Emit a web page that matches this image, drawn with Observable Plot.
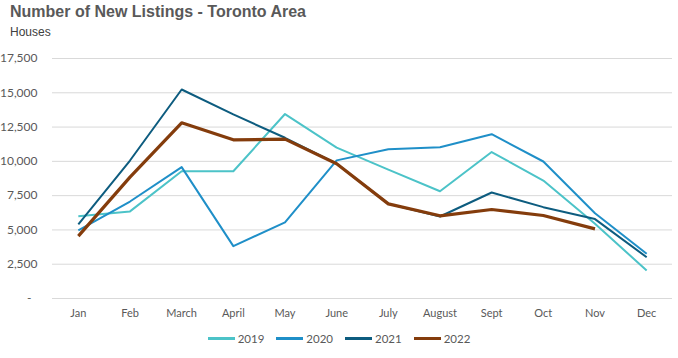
<!DOCTYPE html>
<html><head><meta charset="utf-8">
<script src="https://cdn.jsdelivr.net/npm/d3@7"></script>
<script src="https://cdn.jsdelivr.net/npm/@observablehq/plot@0.6"></script>
<style>
body{margin:0;background:#fff;width:678px;height:358px;position:relative;overflow:hidden;}
#title{position:absolute;left:10px;top:3px;font:bold 16px "Liberation Sans",Arial,sans-serif;color:#595959;white-space:nowrap;}
#sub{position:absolute;left:10px;top:25px;font:12px "Liberation Sans",Arial,sans-serif;color:#404040;}
#chart{position:absolute;left:0;top:40px;}
#legend{position:absolute;left:0;top:332px;width:678px;display:flex;justify-content:center;gap:12px;font:11.5px Lato,sans-serif;color:#595959;}
.item{display:flex;align-items:center;}
.sw{width:27px;height:3px;margin-right:3px;}
</style></head>
<body>
<div id="title">Number of New Listings - Toronto Area</div>
<div id="sub">Houses</div>
<div id="chart"></div>
<div id="legend"></div>
<script>
const months = ["Jan","Feb","March","April","May","June","July","August","Sept","Oct","Nov","Dec"];
const years = ["2019","2020","2021","2022"];
const colors = ["#4cc3c8","#1f8fc8","#0d5c7f","#843c0c"];
const widths = [2, 2, 2, 3.2];
const s2019 = [6000, 6350, 9280, 9280, 13450, 11000, 9400, 7820, 10680, 8600, 5450, 2040];
const s2020 = [4960, 7070, 9580, 3820, 5550, 10070, 10890, 11030, 11980, 9990, 6220, 3260];
const s2021 = [5400, 10060, 15240, 13420, 11720, 9830, 6900, 5980, 7730, 6660, 5790, 3010];
const s2022 = [4550, 8850, 12810, 11570, 11620, 9830, 6900, 6030, 6490, 6050, 5080];
const yTicks = [0, 2500, 5000, 7500, 10000, 12500, 15000, 17500];

const series = [s2019, s2020, s2021, s2022];
const data = series.map((s, i) => s.map((v, j) => ({year: years[i], month: months[j], value: v})));

const fmt = d3.format(",");
const plot = Plot.plot({
  width: 678,
  height: 290,
  marginLeft: 52,
  marginRight: 6,
  marginTop: 18,
  marginBottom: 32,
  style: {fontFamily: "Lato, sans-serif", fontSize: "12px", color: "#595959", background: "transparent"},
  x: {type: "point", domain: months, padding: 0.5, round: false},
  y: {domain: [0, 17500]},
  marks: [
    Plot.gridY(yTicks, {stroke: "#d9d9d9", strokeOpacity: 1, strokeWidth: 1}),
    Plot.axisY(yTicks, {tickSize: 0, tickPadding: 15, label: null, tickFormat: d => d === 0 ? "-\u00a0\u00a0" : fmt(d), fill: "#595959"}),
    Plot.axisX({tickSize: 0, tickPadding: 11, label: null, fill: "#595959", fontSize: 11}),
    ...data.map((d, i) => Plot.line(d, {x: "month", y: "value", stroke: colors[i], strokeWidth: widths[i], strokeLinejoin: "round", strokeLinecap: "butt"}))
  ]
});
document.getElementById("chart").appendChild(plot);

const leg = document.getElementById("legend");
years.forEach((y, i) => {
  const it = document.createElement("div");
  it.className = "item";
  it.innerHTML = `<div class="sw" style="background:${colors[i]}"></div><span>${y}</span>`;
  leg.appendChild(it);
});
</script>
</body></html>
